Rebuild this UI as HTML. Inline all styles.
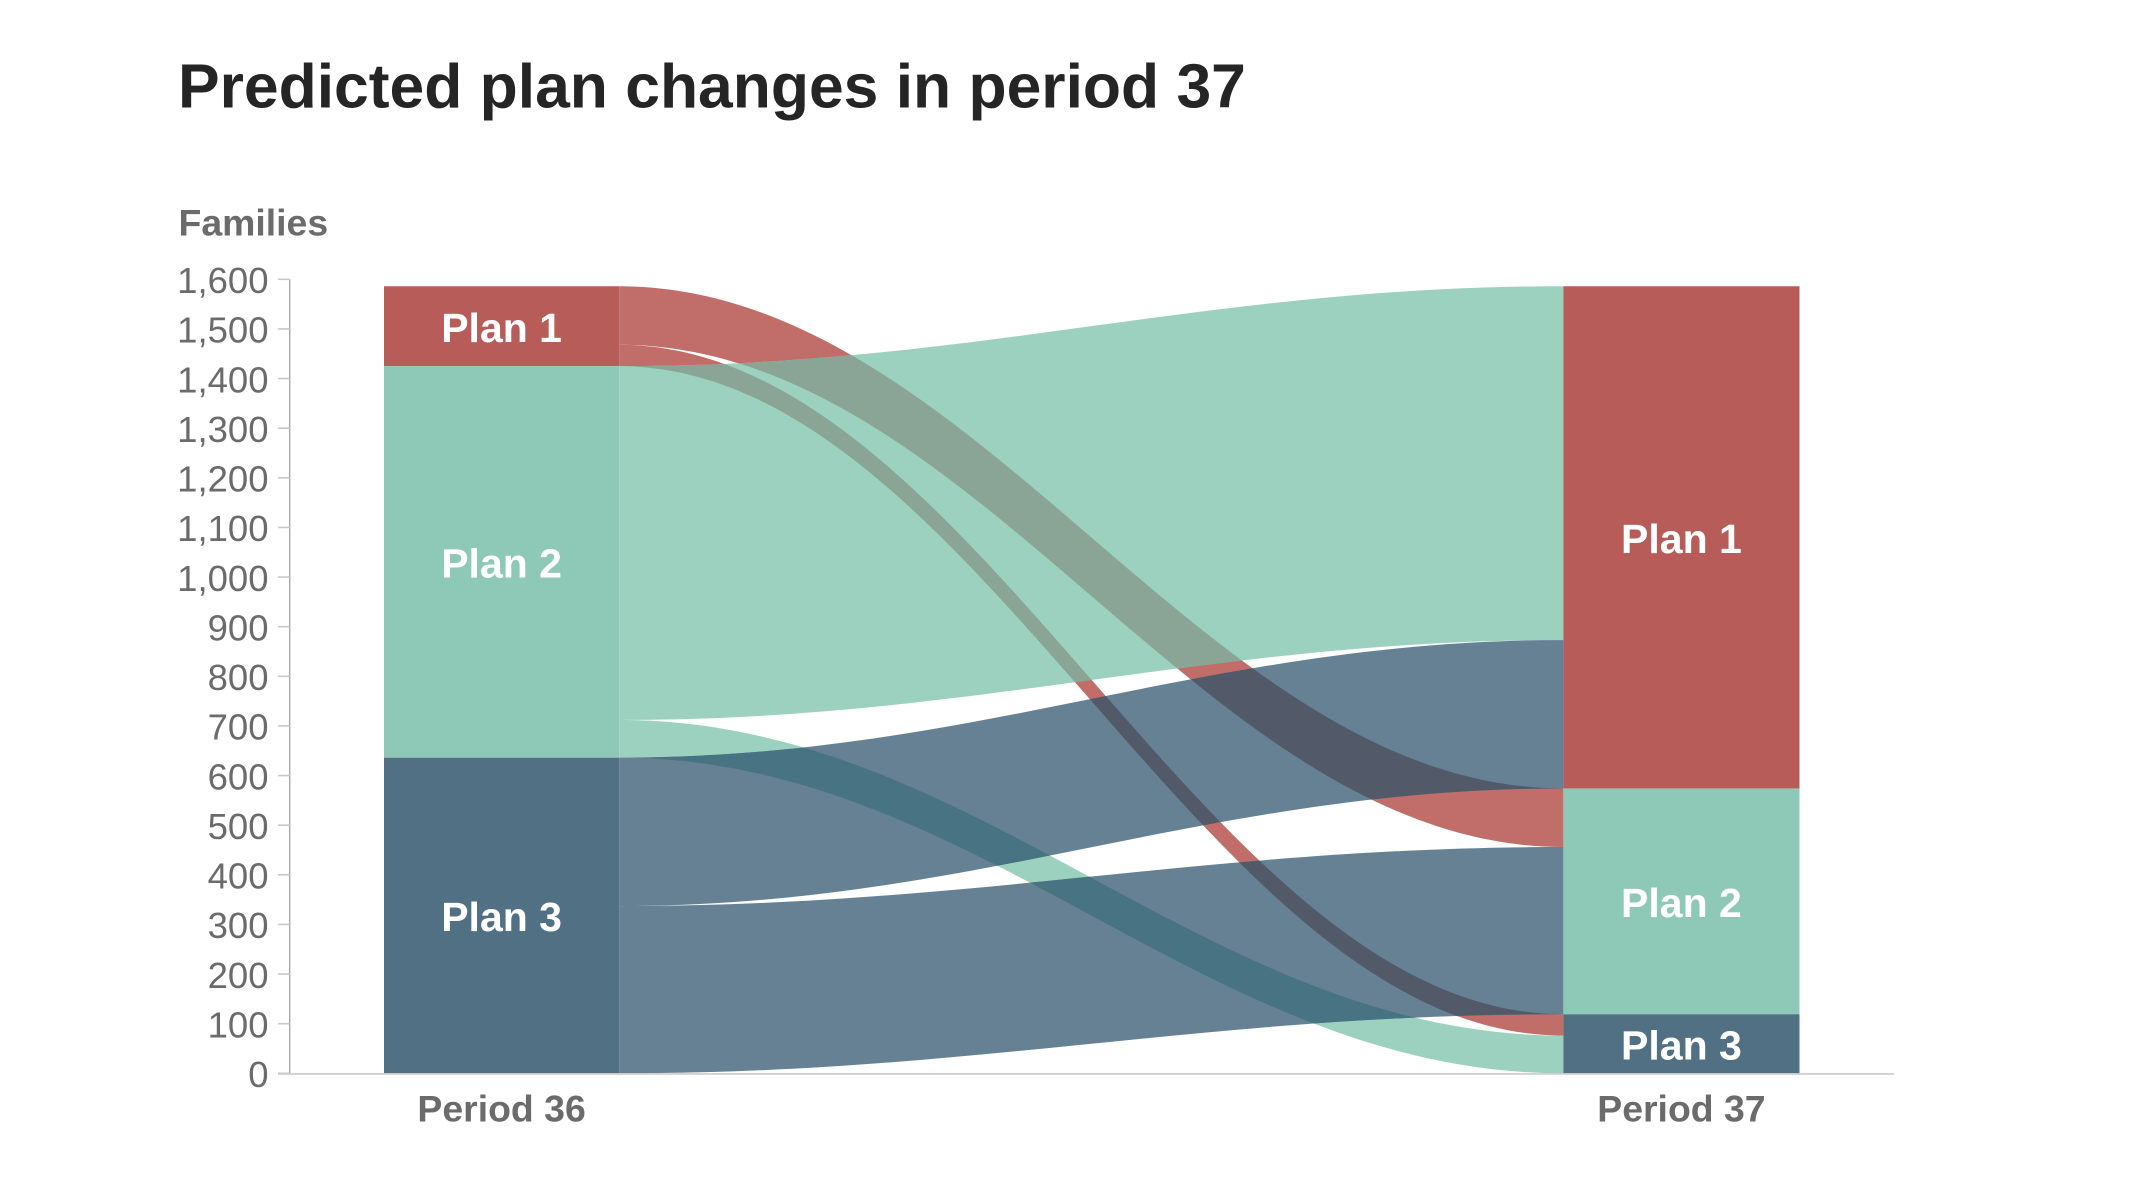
<!DOCTYPE html>
<html lang="en">
<head>
<meta charset="utf-8">
<title>Predicted plan changes in period 37</title>
<style>
html,body{margin:0;padding:0;background:#fff;}
svg{display:block;font-family:"Liberation Sans",Arial,sans-serif;}
</style>
</head>
<body>
<svg id="chart" xmlns="http://www.w3.org/2000/svg" width="2130" height="1200" viewBox="0 0 2130 1200">
  <rect x="0" y="0" width="2130" height="1200" fill="#ffffff"/>
  <text x="178" y="107.5" font-size="62.4" font-weight="700" fill="#252525">Predicted plan changes in period 37</text>
  <text x="178.5" y="235.5" font-size="37.4" font-weight="700" fill="#6b6b6b">Families</text>
  <defs id="clip-defs"></defs>
  <g id="flows"></g>
  <g id="overlaps"></g>
  <g id="nodes"></g>
  <g id="axes"></g>
</svg>
<script>
const plans = ["Plan 1", "Plan 2", "Plan 3"];
const periods = ["Period 36", "Period 37"];
const flowSources = [0, 0, 1, 1, 2, 2];
const flowTargets = [1, 2, 0, 2, 0, 1];
const flowValues = [118, 43, 713, 76, 299, 337];
const yTicks = [0, 100, 200, 300, 400, 500, 600, 700, 800, 900, 1000, 1100, 1200, 1300, 1400, 1500, 1600];

const nodeColors = ["#b85c5a", "#8ec9b8", "#517084"];
const flowColors = ["#c16e6b", "#9cd1bf", "#668193"];
const overlapColors = {"0-1": "#8aa595", "0-2": "#525a6a", "1-2": "#487382"};

const NS = "http://www.w3.org/2000/svg";
const plotTop = 279.3, plotBottom = 1073.3, yMax = 1600;
const axisX = 289.7, tickX0 = 278, axisEnd = 1894;
const columns = [{x0: 384, x1: 619.2}, {x0: 1563.4, x1: 1799.5}];
const curve = 0.38;

function y(v) { return plotBottom - (v / yMax) * (plotBottom - plotTop); }

function make(tag, attrs, parent) {
  const el = document.createElementNS(NS, tag);
  for (const k in attrs) el.setAttribute(k, attrs[k]);
  parent.appendChild(el);
  return el;
}

const flowsG = document.getElementById("flows");
const overlapsG = document.getElementById("overlaps");
const nodesG = document.getElementById("nodes");
const axesG = document.getElementById("axes");
const defs = document.getElementById("clip-defs");

/* Node totals on each side */
const leftTotals = plans.map(function (_, p) {
  return flowValues.reduce(function (s, v, i) { return s + (flowSources[i] === p ? v : 0); }, 0);
});
const rightTotals = plans.map(function (_, p) {
  return flowValues.reduce(function (s, v, i) { return s + (flowTargets[i] === p ? v : 0); }, 0);
});

function stackTops(totals) {
  const tops = [];
  let sum = totals.reduce(function (a, b) { return a + b; }, 0);
  totals.forEach(function (t) { tops.push(sum); sum -= t; });
  return tops;
}
const leftTops = stackTops(leftTotals);
const rightTops = stackTops(rightTotals);

/* Flow paths */
const leftCursor = leftTops.slice();
const rightCursor = rightTops.slice();
const flowPaths = flowValues.map(function (v, i) {
  const s = flowSources[i], t = flowTargets[i];
  const a = leftCursor[s], b = rightCursor[t];
  leftCursor[s] -= v;
  rightCursor[t] -= v;
  const x0 = columns[0].x1, x1 = columns[1].x0, w = x1 - x0;
  const c0 = x0 + curve * w, c1 = x1 - curve * w;
  return "M" + x0 + " " + y(a) +
    "C" + c0 + " " + y(a) + " " + c1 + " " + y(b) + " " + x1 + " " + y(b) +
    "L" + x1 + " " + y(b - v) +
    "C" + c1 + " " + y(b - v) + " " + c0 + " " + y(a - v) + " " + x0 + " " + y(a - v) + "Z";
});

flowPaths.forEach(function (d, i) {
  const p = make("path", {d: d, fill: flowColors[flowSources[i]]}, flowsG);
  
  
  const cp = make("clipPath", {id: "clip-flow-" + i}, defs);
  make("path", {d: d}, cp);
});

/* Crossing regions take a fixed blended colour per pair of source plans */
flowPaths.forEach(function (d, i) {
  flowPaths.forEach(function (_, j) {
    if (flowSources[j] <= flowSources[i]) return;
    const key = flowSources[i] + "-" + flowSources[j];
    const p = make("path", {d: d, fill: overlapColors[key], "clip-path": "url(#clip-flow-" + j + ")"}, overlapsG);
    
    
  });
});

/* Nodes */
function drawNodes(col, totals, tops, side) {
  totals.forEach(function (t, p) {
    const r = make("rect", {
      x: col.x0, y: y(tops[p]), width: col.x1 - col.x0, height: y(tops[p] - t) - y(tops[p]),
      fill: nodeColors[p]
    }, nodesG);
    
    
    const label = make("text", {
      x: (col.x0 + col.x1) / 2, y: (y(tops[p]) + y(tops[p] - t)) / 2 + 15.6,
      "text-anchor": "middle", "font-size": 41, "font-weight": 700, fill: "#ffffff"
    }, nodesG);
    
    
    label.textContent = plans[p];
  });
}
drawNodes(columns[0], leftTotals, leftTops, 'period-36');
drawNodes(columns[1], rightTotals, rightTops, 'period-37');

/* Axes */
const yLine = make("line", {x1: axisX, x2: axisX, y1: y(yMax), y2: y(0), stroke: "#aaaaaa", "stroke-width": 1.4}, axesG);



yTicks.forEach(function (v) {
  const tick = make("line", {x1: tickX0, x2: axisX, y1: y(v), y2: y(v), stroke: "#c8c8c8", "stroke-width": 1.6}, axesG);
  
  
  const label = make("text", {x: 268.5, y: y(v) + 13.8, "text-anchor": "end", "font-size": 36.5, fill: "#6b6b6b"}, axesG);
  
  
  label.textContent = v.toLocaleString("en-US");
});

const xLine = make("line", {x1: tickX0, x2: axisEnd, y1: y(0) + 0.6, y2: y(0) + 0.6, stroke: "#cccccc", "stroke-width": 1.6}, axesG);



periods.forEach(function (name, i) {
  const col = columns[i];
  const label = make("text", {
    x: (col.x0 + col.x1) / 2, y: 1121.5, "text-anchor": "middle",
    "font-size": 37.4, "font-weight": 700, fill: "#6b6b6b"
  }, axesG);
  
  
  label.textContent = name;
});
</script>
</body>
</html>
